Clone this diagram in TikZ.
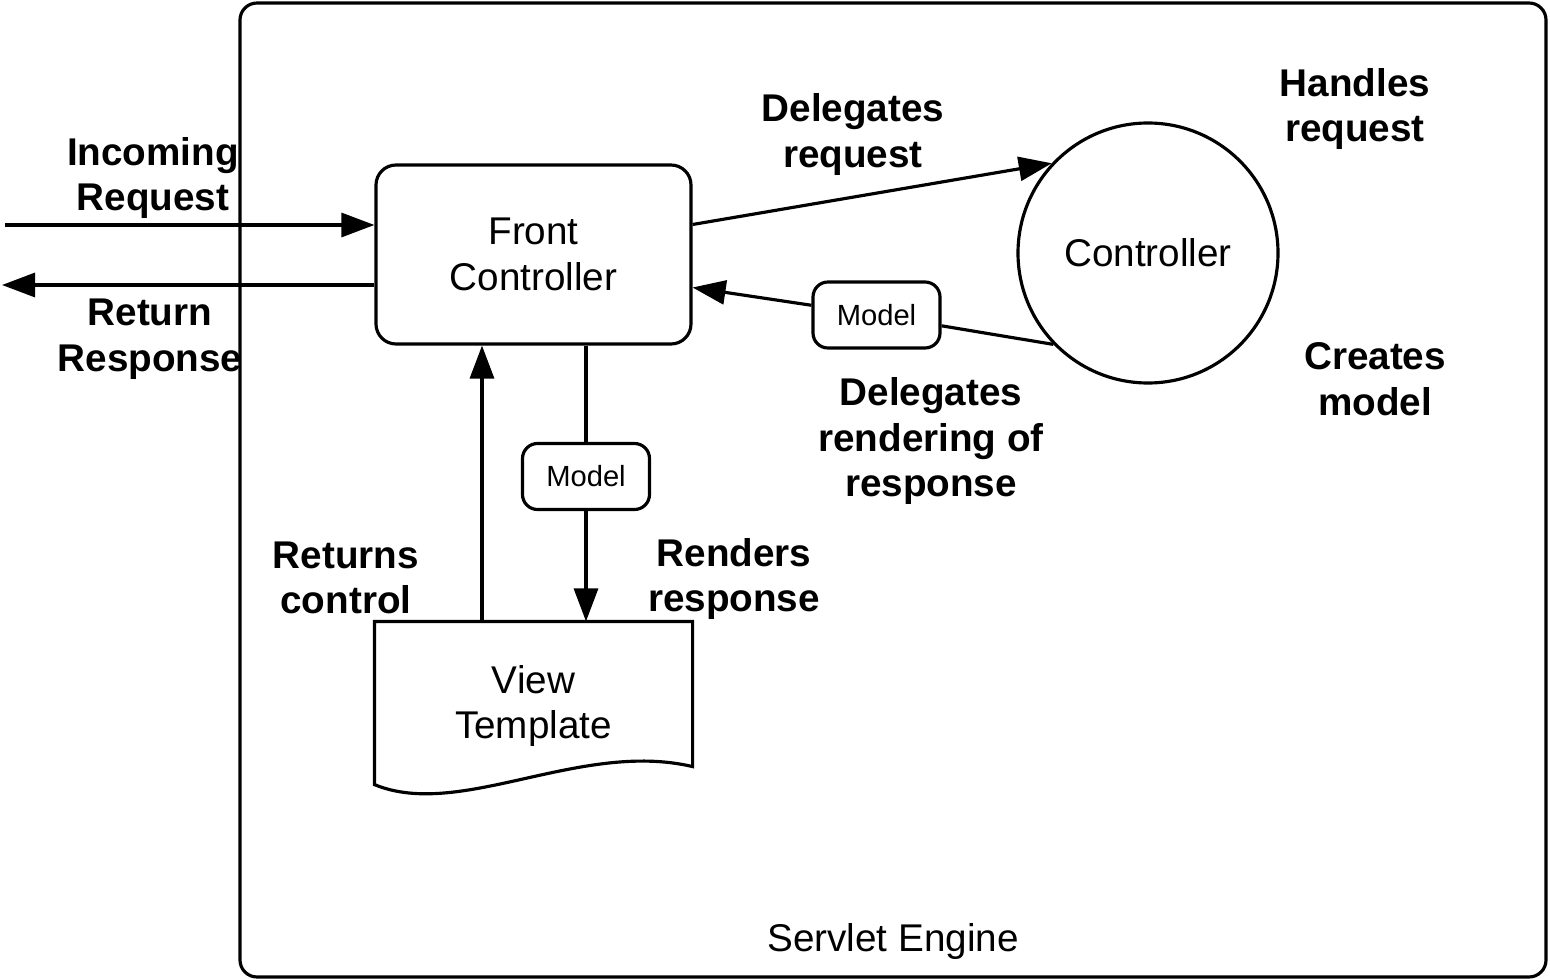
\documentclass[tikz,border=0pt]{standalone}
\usepackage{fontspec}
\setmainfont{Liberation Sans}
\usepackage{tikz}
\usetikzlibrary{shapes,arrows,arrows.meta,positioning,calc}

\begin{document}
\begin{tikzpicture}[
  line width=0.9pt,
  font=\fontsize{11}{13}\selectfont,
  box/.style={draw, rectangle, rounded corners=0.2cm, minimum width=3.15cm, minimum height=1.79cm, align=center},
  circ/.style={draw, circle, minimum size=2.6cm, inner sep=0pt},
  modelbox/.style={draw, rectangle, rounded corners=0.15cm, fill=white, minimum width=1.27cm, minimum height=0.66cm, font=\fontsize{8.3}{10}\selectfont},
  lbl/.style={align=center, font=\bfseries\fontsize{11}{13}\selectfont},
  >={Triangle[length=3.3mm,width=2.4mm]}
]
  \useasboundingbox (0,0) rectangle (15.5,-9.79);
  \node[draw, rectangle, rounded corners=0.17cm, minimum width=13.06cm, minimum height=9.74cm] (engine) at (8.93,-4.9) {};
  \node (enginelbl) at (8.93,-9.41) {Servlet Engine};

  \node[box] (front) at (5.335,-2.545) {Front\\Controller};
  \node[circ] (ctrl) at (11.48,-2.53) {Controller};
  \node[modelbox] (m1) at (8.765,-3.15) {Model};
  \node[modelbox] (m2) at (5.86,-4.765) {Model};
  \node[minimum width=3.15cm, minimum height=1.6cm, align=center] (view) at (5.335,-7.03) {};
  \node[align=center] (viewlbl) at (5.335,-7.06) {View\\Template};
  \draw (view.north west) -- (view.north east) -- ([yshift=0.18cm]view.south east)
    .. controls (5.8,-7.4) and (4.6,-8.2) .. (view.south west) -- cycle;

  \coordinate (reqin) at (0.05,-2.25);
  \coordinate (resout) at (0.02,-2.85);
  \draw[->] (reqin) -- (reqin -| front.west);
  \draw[->] (front.west |- resout) -- (resout);

  \draw[->] ([yshift=0.3cm]front.east) -- (ctrl.137);
  \draw (ctrl.224) -- (m1);
  \draw[->] (m1) -- ([yshift=-0.33cm]front.east);

  \draw (front.south -| m2) -- (m2);
  \draw[->] (m2) -- (view.north -| m2);
  \draw[->] ([xshift=-0.515cm]view.north) -- ([xshift=-0.515cm]front.south);

  \node[lbl] (inlbl) at (1.53,-1.78) {Incoming\\Request};
  \node[lbl] (outlbl) at (1.50,-3.39) {Return\\Response};
  \node[lbl] (dellbl) at (8.53,-1.345) {Delegates\\request};
  \node[lbl] (handlbl) at (13.55,-1.09) {Handles\\request};
  \node[lbl] (crlbl) at (13.75,-3.795) {Creates\\model};
  \node[lbl] (rendlbl) at (9.31,-4.41) {Delegates\\rendering of\\response};
  \node[lbl] (retlbl) at (3.46,-5.78) {Returns\\control};
  \node[lbl] (rrlbl) at (7.34,-5.79) {Renders\\response};
\end{tikzpicture}
\end{document}
